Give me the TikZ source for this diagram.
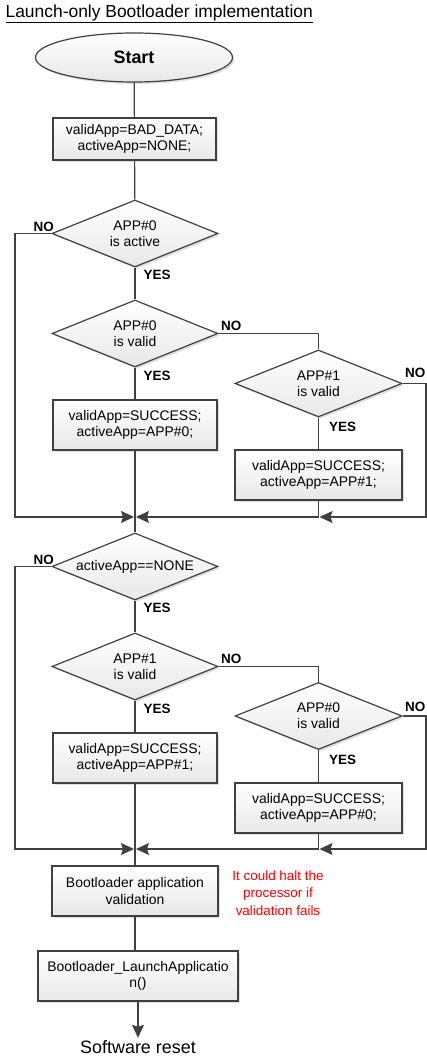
\documentclass[tikz,border=0pt]{standalone}
\usepackage{fontspec}
\setmainfont{Liberation Sans}
\usepackage{tikz}
\usetikzlibrary{calc,arrows.meta,shapes,shapes.geometric,shadows,positioning}

\begin{document}
\begin{tikzpicture}[line width=1.2bp,
	wire/.style={draw=black!75},
	flow/.style={draw=black!75, shorten >=1bp, -{Stealth[length=13bp, width=12bp, inset=2bp]}},
	txt/.style={font=\fontsize{14}{16.3}\selectfont, align=center},
	lbl/.style={font=\fontsize{13.5}{16}\selectfont\bfseries, inner sep=0pt},
	greybox/.style={draw=black!75, top color=white, bottom color=black!9, drop shadow={shadow xshift=2bp, shadow yshift=-2bp, fill=black!25}},
	proc/.style={greybox, txt, rectangle, minimum width=164bp, minimum height=50bp, inner sep=2bp},
	dec/.style={greybox, txt, diamond, aspect=2.5, minimum width=166bp, minimum height=67bp, inner sep=0pt}]
	\useasboundingbox (0bp,0bp) rectangle (427bp,1059bp);

	\node (title) at (5bp, 1045bp) [anchor=west, inner sep=0pt, font=\fontsize{17.5}{20}\selectfont] {\underline{Launch-only Bootloader implementation}};
	\node (start) at (134bp, 1001.5bp) [greybox, ellipse, minimum width=197bp, minimum height=49bp, font=\fontsize{18}{20}\selectfont\bfseries] {Start};
	\node (init) at (134.5bp, 920bp) [proc, minimum width=163bp, minimum height=42bp] {validApp=BAD\_DATA;\\activeApp=NONE;};

	% first pass: APP#0 active?
	\node (act0) at (135bp, 825.5bp) [dec] {APP\#0\\is active};
	\node (val0) at (135bp, 725.5bp) [dec] {APP\#0\\is valid};
	\node (val1) at (318.5bp, 675.5bp) [dec, minimum width=167bp] {APP\#1\\is valid};
	\node (set0) at (135bp, 634bp) [proc] {validApp=SUCCESS;\\activeApp=APP\#0;};
	\node (set1) at (318.5bp, 584bp) [proc, minimum width=167bp] {validApp=SUCCESS;\\activeApp=APP\#1;};
	\coordinate (join1) at (135bp, 542bp);
	\coordinate (railL1) at (15bp, 542bp);
	\coordinate (railR1) at (426bp, 542bp);

	% second pass: nothing active yet
	\node (none) at (135bp, 492.5bp) [dec] {activeApp==NONE};
	\node (val1b) at (135bp, 392.5bp) [dec] {APP\#1\\is valid};
	\node (val0b) at (318.5bp, 343bp) [dec, minimum width=167bp] {APP\#0\\is valid};
	\node (set1b) at (135bp, 301bp) [proc] {validApp=SUCCESS;\\activeApp=APP\#1;};
	\node (set0b) at (318.5bp, 251bp) [proc, minimum width=167bp] {validApp=SUCCESS;\\activeApp=APP\#0;};
	\coordinate (join2) at (135bp, 210bp);
	\coordinate (railL2) at (15bp, 210bp);
	\coordinate (railR2) at (426bp, 210bp);

	\node (check) at (135bp, 168bp) [proc, minimum width=166bp] {Bootloader application\\validation};
	\node (note) at (278bp, 166bp) [txt, text=red, font=\fontsize{13.5}{17.5}\selectfont] {It could halt the\\processor if\\validation fails};
	\node (launch) at (138bp, 83bp) [proc, minimum width=200bp] {Bootloader\_LaunchApplicatio\\n()};
	\node (reset) at (138bp, 12bp) [inner sep=1bp, font=\fontsize{18}{20}\selectfont] {Software reset};

	\node [lbl, above left=1bp and -3bp of act0.west] {NO};
	\node [lbl, below right=2bp and 8bp of act0.south] {YES};
	\node [lbl, above right=2bp and 2bp of val0.east] {NO};
	\node [lbl, below right=3bp and 8bp of val0.south] {YES};
	\node [lbl, above right=5bp and 2bp of val1.east] {NO};
	\node [lbl, below right=4bp and 10bp of val1.south] {YES};
	\node [lbl, above left=1bp and -3bp of none.west] {NO};
	\node [lbl, below right=2bp and 8bp of none.south] {YES};
	\node [lbl, above right=2bp and 2bp of val1b.east] {NO};
	\node [lbl, below right=3bp and 8bp of val1b.south] {YES};
	\node [lbl, above right=4bp and 2bp of val0b.east] {NO};
	\node [lbl, below right=4bp and 10bp of val0b.south] {YES};

	\draw [wire] (start) -- (init);
	\draw [wire] (init) -- (act0);
	\draw [wire] (act0) -- (val0);
	\draw [wire] (val0) -- (set0);
	\draw [wire] (set0) -- (none);
	\draw [wire] (val0.east) -| (val1.north);
	\draw [wire] (val1) -- (set1);
	\draw [wire] (set1) -- (set1 |- join1);
	\draw [flow] (act0.west) -| (railL1) -- (join1);
	\draw [flow] (val1.east) -| (railR1) -- (set1 |- join1);
	\draw [flow] (set1 |- join1) -- (join1);

	\draw [wire] (none) -- (val1b);
	\draw [wire] (val1b) -- (set1b);
	\draw [wire] (set1b) -- (check);
	\draw [wire] (val1b.east) -| (val0b.north);
	\draw [wire] (val0b) -- (set0b);
	\draw [wire] (set0b) -- (set0b |- join2);
	\draw [flow] (none.west) -| (railL2) -- (join2);
	\draw [flow] (val0b.east) -| (railR2) -- (set0b |- join2);
	\draw [flow] (set0b |- join2) -- (join2);

	\draw [wire] (check) -- (check |- launch.north);
	\draw [flow] (launch) -- (reset);
\end{tikzpicture}
\end{document}
